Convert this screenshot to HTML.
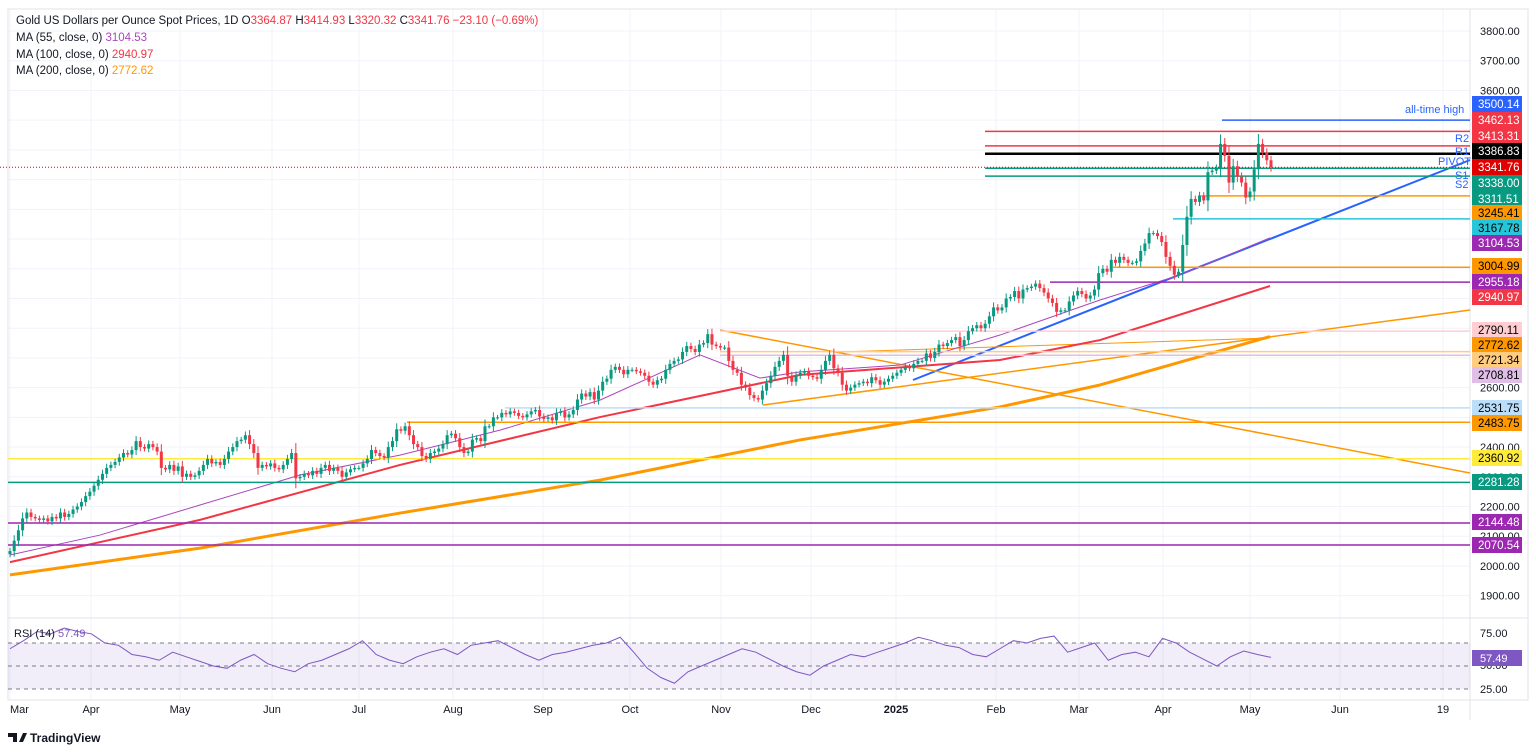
<!DOCTYPE html>
<html><head><meta charset="utf-8"><style>
body{margin:0;width:1536px;height:753px;background:#fff;overflow:hidden;font-family:"Liberation Sans",sans-serif}
svg{position:absolute;left:0;top:0}
</style></head><body>
<svg id="c" width="1536" height="753" xmlns="http://www.w3.org/2000/svg"></svg>
<script>
const closes=[2050,2085,2120,2160,2180,2165,2160,2155,2160,2150,2165,2160,2180,2165,2175,2190,2200,2215,2235,2250,
2270,2290,2310,2330,2340,2350,2365,2380,2375,2390,2420,2400,2395,2410,2400,2385,2330,2325,2340,2320,2335,2300,
2310,2300,2305,2320,2340,2360,2345,2350,2340,2360,2385,2400,2420,2425,2440,2410,2380,2330,2340,2335,2345,2330,
2325,2340,2360,2380,2295,2300,2310,2305,2320,2310,2330,2340,2320,2330,2320,2300,2315,2325,2330,
2330,2345,2360,2390,2380,2370,2365,2400,2420,2460,2455,2470,2440,2410,2400,2370,2360,2380,2385,2395,2410,2440,
2445,2430,2400,2380,2385,2425,2430,2420,2470,2470,2500,2500,2515,2510,2520,2515,2505,2500,2510,2520,2525,2503,
2495,2500,2490,2515,2520,2500,2510,2525,2560,2580,2570,2585,2560,2590,2620,2630,2660,2670,2660,2645,
2660,2660,2655,2650,2640,2620,2610,2625,2630,2660,2680,2690,2695,2720,2740,2730,2720,2745,2750,2780,2745,2740,2735,
2735,2690,2660,2650,2610,2600,2575,2565,2560,2590,2615,2640,2670,2690,2710,2640,2620,2640,2650,2655,
2640,2635,2630,2660,2690,2710,2665,2650,2610,2590,2600,2610,2615,2620,2615,2635,2625,2610,2620,2630,
2640,2650,2660,2670,2665,2680,2690,2690,2715,2700,2720,2745,2740,2750,2760,2770,2740,2760,2790,2800,2810,
2800,2815,2840,2870,2860,2870,2900,2905,2925,2900,2930,2935,2940,2950,2935,2920,2900,2885,2855,2860,
2860,2890,2910,2925,2915,2900,2910,2930,2985,3000,2990,3030,3020,3040,3030,3020,3020,3025,3060,3085,3120,
3120,3110,3090,3040,3010,2980,2990,3080,3175,3235,3225,3245,3230,3325,3330,3340,3420,3380,3290,3345,3310,
3290,3240,3260,3335,3420,3390,3365,3341.76];
const ma55=[2037,2104,2205,2306,2373,2457,2558,2710,2632,2653,2676,2777,2895,2979,3104];
const ma55x=[10,100,200,300,400,500,600,700,760,800,900,1000,1100,1180,1270];
const ma100=[2013,2155,2340,2501,2643,2693,2760,2942];
const ma100x=[10,200,400,600,800,1000,1100,1270];
const ma200=[1970,2060,2178,2289,2424,2535,2609,2772];
const ma200x=[10,200,400,600,800,1000,1100,1270];
const rsi=[65,72,80,78,83,80,78,70,68,60,58,55,62,58,54,50,48,55,60,52,48,45,52,55,60,65,72,60,55,52,58,62,65,60,68,70,72,66,60,55,60,62,65,68,70,75,62,48,40,35,45,50,55,60,65,62,56,50,45,42,50,55,60,58,62,66,70,75,72,68,66,60,58,65,72,70,74,76,62,66,70,55,60,62,58,74,70,62,56,50,58,63,60,57.5];
const levels=[3500.14,3462.13,3413.31,3386.83,3341.76,3338.00,3311.51,3245.41,3167.78,3104.53,3004.99,2955.18,2940.97,2790.11,2772.62,2721.34,2708.81,2531.75,2483.75,2360.92,2281.28,2144.48,2070.54];
const levelColors=["#2962ff","#f23645","#f23645","#000","#e00000","#089981","#089981","#ff9800","#26c6da","#9c27b0","#ff9800","#9c27b0","#f23645","#ffcdd2","#ff9800","#ffcc80","#e1bee7","#bbdefb","#ff9800","#ffeb3b","#089981","#9c27b0","#9c27b0"];
const levelText=["#fff","#fff","#fff","#fff","#fff","#fff","#fff","#000","#000","#fff","#000","#fff","#fff","#000","#000","#000","#000","#000","#000","#000","#fff","#fff","#fff"];
const levelStart=[1222,985,985,985,0,985,985,1198,1173,null,1113,1050,null,720,null,720,720,505,407,8,8,8,8];
const labelY=[104,120,136,151,167,183,199,213,228,243,266,282,297,330,345,360,375,408,423,458,482,522,545];
const priceTicks=[3800,3700,3600,2600,2400,2300,2200,2100,2000,1900];
const months=["Mar","Apr","May","Jun","Jul","Aug","Sep","Oct","Nov","Dec","2025","Feb","Mar","Apr","May","Jun","19"];
const monthX=[10,91,180,272,359,453,543,630,721,811,896,996,1079,1163,1250,1340,1443];

const S=document.getElementById('c'),NS="http://www.w3.org/2000/svg";
function el(t,a,p){const e=document.createElementNS(NS,t);for(const k in a)e.setAttribute(k,a[k]);(p||S).appendChild(e);return e;}
const y=p=>31+(3800-p)*0.2972;
const ry=v=>666-(v-50)*1.15;
const N=closes.length,step=1261/(N-1),bx=i=>10+i*step;
let g=el('g',{});
for(let p=1900;p<=3800;p+=100)el('line',{x1:8,x2:1470,y1:y(p),y2:y(p),stroke:'#f0f3fa'},g);
monthX.forEach(x=>el('line',{x1:x,x2:x,y1:9,y2:700,stroke:'#f0f3fa'},g));
el('rect',{x:8,y:9,width:1520,height:691,fill:'none',stroke:'#e0e3eb'});
el('line',{x1:8,x2:1528,y1:618,y2:618,stroke:'#e0e3eb'});
el('line',{x1:1470,x2:1470,y1:9,y2:720,stroke:'#e0e3eb'});
let rg=el('g',{});
el('rect',{x:8,y:ry(70),width:1462,height:ry(30)-ry(70),fill:'#7e57c2',opacity:0.1},rg);
[70,50,30].forEach(v=>el('line',{x1:8,x2:1470,y1:ry(v),y2:ry(v),stroke:'#787b86','stroke-dasharray':'4 4'},rg));
const rstep=1261/(rsi.length-1);
el('polyline',{points:rsi.map((v,i)=>(10+i*rstep)+','+ry(v)).join(' '),fill:'none',stroke:'#7e57c2','stroke-width':1},rg);
let t=el('text',{x:14,y:637,'font-size':11,fill:'#131722'},rg);t.textContent='RSI (14) ';
let t2=el('tspan',{fill:'#7e57c2'},t);t2.textContent='57.49';
[[75,637],[50,669],[25,693]].forEach(a=>{let tt=el('text',{x:1480,y:a[1],'font-size':11,fill:'#131722'});tt.textContent=a[0].toFixed(2);});
let rb=el('rect',{x:1472,y:650,width:50,height:16,fill:'#7e57c2'});
let rt=el('text',{x:1480,y:662,'font-size':11,fill:'#fff'});rt.textContent='57.49';
el('line',{x1:913,y1:380,x2:1470,y2:160,stroke:'#2962ff','stroke-width':2});
el('line',{x1:763,y1:405,x2:1470,y2:310,stroke:'#ff9800','stroke-width':1.5});
el('line',{x1:720,y1:330,x2:1470,y2:473,stroke:'#ff9800','stroke-width':1.5});
el('line',{x1:838,y1:352,x2:1270,y2:338,stroke:'#ff9800','stroke-width':1});
const poly=(xs,vs,c,w,n)=>{let p=el('polyline',{points:xs.map((x,i)=>x+','+y(vs[i])).join(' '),fill:'none',stroke:c,'stroke-width':w});};
poly(ma200x,ma200,'#ff9800',3,'ma200-line');
poly(ma100x,ma100,'#f23645',2,'ma100-line');
poly(ma55x,ma55,'#ab47bc',1,'ma55-line');
levels.forEach((p,i)=>{
 if(levelStart[i]!==null){let l=el('line',{x1:levelStart[i],x2:1470,y1:y(p),y2:y(p),stroke:levelColors[i],'stroke-width':i==3?2.5:1.5});
 if(i==4){l.setAttribute('stroke-dasharray','1 2');l.setAttribute('stroke-width',1);}
 }
});
let cg=el('g',{});
closes.forEach((c,i)=>{
 const o=i?closes[i-1]:c-10;const up=c>=o;const col=up?'#089981':'#f23645';
 const r=Math.abs(c-o)*0.3+8;const hi=Math.max(o,c)+r,lo=Math.min(o,c)-r;const x=bx(i);
 el('line',{x1:x,x2:x,y1:y(hi),y2:y(lo),stroke:col},cg);
 const yt=y(Math.max(o,c)),h=Math.max(1,y(Math.min(o,c))-yt);
 el('rect',{x:x-1.5,y:yt,width:3,height:h,fill:col},cg);
});
priceTicks.forEach(p=>{let tt=el('text',{x:1480,y:y(p)+4,'font-size':11,fill:'#131722'});tt.textContent=p.toFixed(2);});
levels.forEach((p,i)=>{let r=el('rect',{x:1472,y:labelY[i]-8,width:50,height:16,fill:levelColors[i]});
 let tt=el('text',{x:1478,y:labelY[i]+4,'font-size':11.5,fill:levelText[i]});tt.textContent=p.toFixed(2);});
[['all-time high',1405,113],['R2',1455,142],['R1',1455,155],['PIVOT',1438,165],['S1',1455,179],['S2',1455,188]].forEach(a=>{let tt=el('text',{x:a[1],y:a[2],'font-size':11,fill:'#2962ff'});tt.textContent=a[0];});
months.forEach((m,i)=>{let tt=el('text',{x:monthX[i],y:713,'font-size':11,fill:'#131722','text-anchor':i?'middle':'start','font-weight':m=='2025'?'bold':'normal'});tt.textContent=m;});
let h0=el('text',{x:16,y:24,'font-size':11.5,fill:'#131722'});
h0.innerHTML='Gold US Dollars per Ounce Spot Prices, 1D  O<tspan fill="#f23645">3364.87</tspan>  H<tspan fill="#f23645">3414.93</tspan>  L<tspan fill="#f23645">3320.32</tspan>  C<tspan fill="#f23645">3341.76 −23.10 (−0.69%)</tspan>';
[['MA (55, close, 0)  ','3104.53','#ab47bc',41],['MA (100, close, 0)  ','2940.97','#f23645',58],['MA (200, close, 0)  ','2772.62','#ff9800',74]].forEach(a=>{let tt=el('text',{x:16,y:a[3],'font-size':11.5,fill:'#131722'});tt.innerHTML=a[0]+'<tspan fill="'+a[2]+'">'+a[1]+'</tspan>';});
let lg=el('text',{x:30,y:742,'font-size':12,'font-weight':'bold',fill:'#131722'});lg.textContent='TradingView';
el('path',{d:'M8 733h9v9h-4v-5h-5zM19 742l4-9h4l-4 9z',fill:'#131722'});
</script>
</body></html>
